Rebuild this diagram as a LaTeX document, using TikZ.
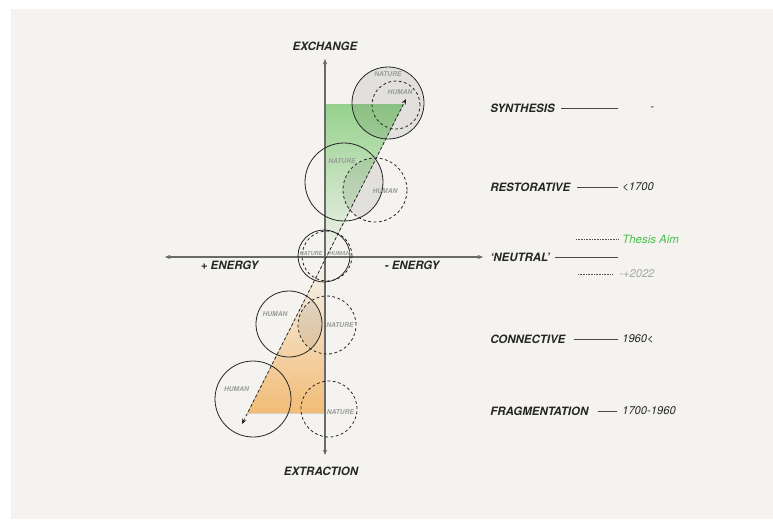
\documentclass[tikz,border=0pt]{standalone}
\usepackage{fontspec}
\setmainfont{TeX Gyre Heros}
\usetikzlibrary{arrows.meta}
\definecolor{paper}{HTML}{F4F3EF}
\definecolor{ink}{HTML}{262626}
\definecolor{axisgray}{HTML}{6A6A6A}
\definecolor{labelgray}{HTML}{9C9C9C}
\definecolor{leafgreen}{HTML}{96D18D}
\definecolor{amber}{HTML}{F2BC76}
\definecolor{aimgreen}{HTML}{4CBF4C}
\definecolor{yeargray}{HTML}{A8A8A8}

\tikzset{
  solidring/.style={circle, draw=ink, line width=0.6pt, inner sep=0pt},
  dashring/.style={circle, draw=ink, line width=0.6pt, inner sep=0pt, dash pattern=on 2.1pt off 1.9pt},
  tag/.style={text=labelgray, font=\fontsize{5}{6}\selectfont\bfseries\itshape, inner sep=0pt},
  smalltag/.style={text=labelgray, font=\fontsize{4.2}{5}\selectfont\bfseries\itshape, inner sep=0pt},
  axislabel/.style={text=ink, font=\fontsize{8.6}{10}\selectfont\bfseries\itshape, inner sep=0pt},
  phase/.style={text=ink, font=\fontsize{8.6}{10}\selectfont\bfseries\itshape, inner sep=0pt, anchor=west},
  period/.style={text=ink, font=\fontsize{8.4}{10}\selectfont\itshape, inner sep=0pt, anchor=west},
  axisline/.style={draw=axisgray, line width=0.9pt, -{Stealth[length=4pt,width=3.2pt]}},
  rule/.style={draw=ink!85, line width=0.7pt},
  dotrule/.style={draw=ink!80, line width=0.5pt, dash pattern=on 0.6pt off 0.6pt},
  lens/.style={fill=black, fill opacity=0.075}
}

\begin{document}
\begin{tikzpicture}[x=0.75pt, y=-0.75pt]
  \useasboundingbox (0,0) rectangle (773,519);
  \fill[white] (0,0) rectangle (773,519);
  \fill[paper] (11,9) rectangle (773,519);

  % gradient wedges either side of the neutral point
  \fill[top color=leafgreen, middle color=leafgreen!30!paper, bottom color=paper]
    (325,104) -- (403.5,104) -- (325,260) -- cycle;
  \fill[top color=paper, middle color=amber!40!paper, bottom color=amber]
    (325,260) -- (325,413) -- (247.5,413) -- cycle;

  % shaded overlaps of the paired circles
  \fill[lens] (388,103) circle[radius=27pt];
  \begin{scope}
    \clip (344,182) circle[radius=29.25pt];
    \fill[lens] (375,190) circle[radius=24pt];
  \end{scope}
  \begin{scope}
    \clip (289,324) circle[radius=24.75pt];
    \fill[lens] (327,325) circle[radius=21.75pt];
  \end{scope}

  % axes
  \coordinate (top) at (325,59);
  \coordinate (bottom) at (325,455);
  \coordinate (left) at (165,257);
  \coordinate (right) at (483,257);
  \coordinate (origin) at (325,257);
  \draw[axisline] (origin) -- (top);
  \draw[axisline] (origin) -- (bottom);
  \draw[axisline] (origin) -- (left);
  \draw[axisline] (origin) -- (right);

  % circles: synthesis
  \node[solidring, minimum size=54pt] (synN) at (388,103) {};
  \node[dashring, minimum size=36pt] (synH) at (396,105) {};
  % restorative
  \node[solidring, minimum size=58.5pt] (resN) at (344,182) {};
  \node[dashring, minimum size=48pt] (resH) at (375,190) {};
  % neutral
  \node[solidring, minimum size=39pt] (neuN) at (324,256) {};
  \node[dashring, minimum size=37.5pt] (neuH) at (327,256) {};
  % connective
  \node[solidring, minimum size=49.5pt] (conH) at (289,324) {};
  \node[dashring, minimum size=43.5pt] (conN) at (327,325) {};
  % fragmentation
  \node[solidring, minimum size=57pt] (fraH) at (253,399) {};
  \node[dashring, minimum size=42pt] (fraN) at (329,409) {};

  % trajectory
  \coordinate (trajA) at (242,424);
  \coordinate (trajB) at (406,99);
  \draw[ink, line width=0.6pt, dash pattern=on 2.1pt off 1.9pt,
        {Stealth[length=4pt,width=3.4pt]}-{Stealth[length=4pt,width=3.4pt]}] (trajA) -- (trajB);

  % circle tags
  \node[tag] (tSynN) at (388,74) {NATURE};
  \node[tag] (tSynH) at (400,92) {HUMAN};
  \node[tag] (tResN) at (342,161) {NATURE};
  \node[tag] (tResH) at (385,191) {HUMAN};
  \node[smalltag] (tNeuN) at (311,253) {NATURE};
  \node[smalltag] (tNeuH) at (339.5,253) {HUMAN};
  \node[tag] (tConH) at (275,314) {HUMAN};
  \node[tag] (tConN) at (340,325) {NATURE};
  \node[tag] (tFraH) at (236.5,389) {HUMAN};
  \node[tag] (tFraN) at (340.5,412) {NATURE};

  % axis labels
  \node[axislabel] (exch) at (325,46) {EXCHANGE};
  \node[axislabel] (extr) at (321,471) {EXTRACTION};
  \node[axislabel] (plusE) at (229.5,265) {+ ENERGY};
  \node[axislabel] (minusE) at (412,265) {- ENERGY};

  % phases and periods
  \node[phase] (syn) at (490,108) {SYNTHESIS};
  \coordinate (synA) at (561,108); \coordinate (synB) at (618,108);
  \draw[rule] (synA) -- (synB);
  \node[period] (synY) at (650,109) {-};

  \node[phase] (res) at (490,187) {RESTORATIVE};
  \coordinate (resA) at (577,187); \coordinate (resB) at (618,187);
  \draw[rule] (resA) -- (resB);
  \node[period] (resY) at (622,187) {<1700};

  \node[phase] (neu) at (490,257) {‘NEUTRAL’};
  \coordinate (neuA) at (555,257); \coordinate (neuB) at (618,257);
  \draw[rule] (neuA) -- (neuB);
  \coordinate (aimA) at (576,239); \coordinate (aimB) at (618,239);
  \draw[dotrule] (aimA) -- (aimB);
  \node[period, text=aimgreen, font=\fontsize{8.6}{10}\selectfont\itshape] (aim) at (622,239) {Thesis Aim};
  \coordinate (nowA) at (578,274); \coordinate (nowB) at (613,274);
  \draw[dotrule] (nowA) -- (nowB);
  \node[period, text=yeargray] (now) at (619,274) {-+2022};

  \node[phase] (con) at (490,339) {CONNECTIVE};
  \coordinate (conA) at (574,339); \coordinate (conB) at (618,339);
  \draw[rule] (conA) -- (conB);
  \node[period] (conY) at (622,339) {1960<};

  \node[phase] (fra) at (490,411) {FRAGMENTATION};
  \coordinate (fraA) at (598,411); \coordinate (fraB) at (617,411);
  \draw[rule] (fraA) -- (fraB);
  \node[period] (fraY) at (622,411) {1700-1960};
\end{tikzpicture}
\end{document}
